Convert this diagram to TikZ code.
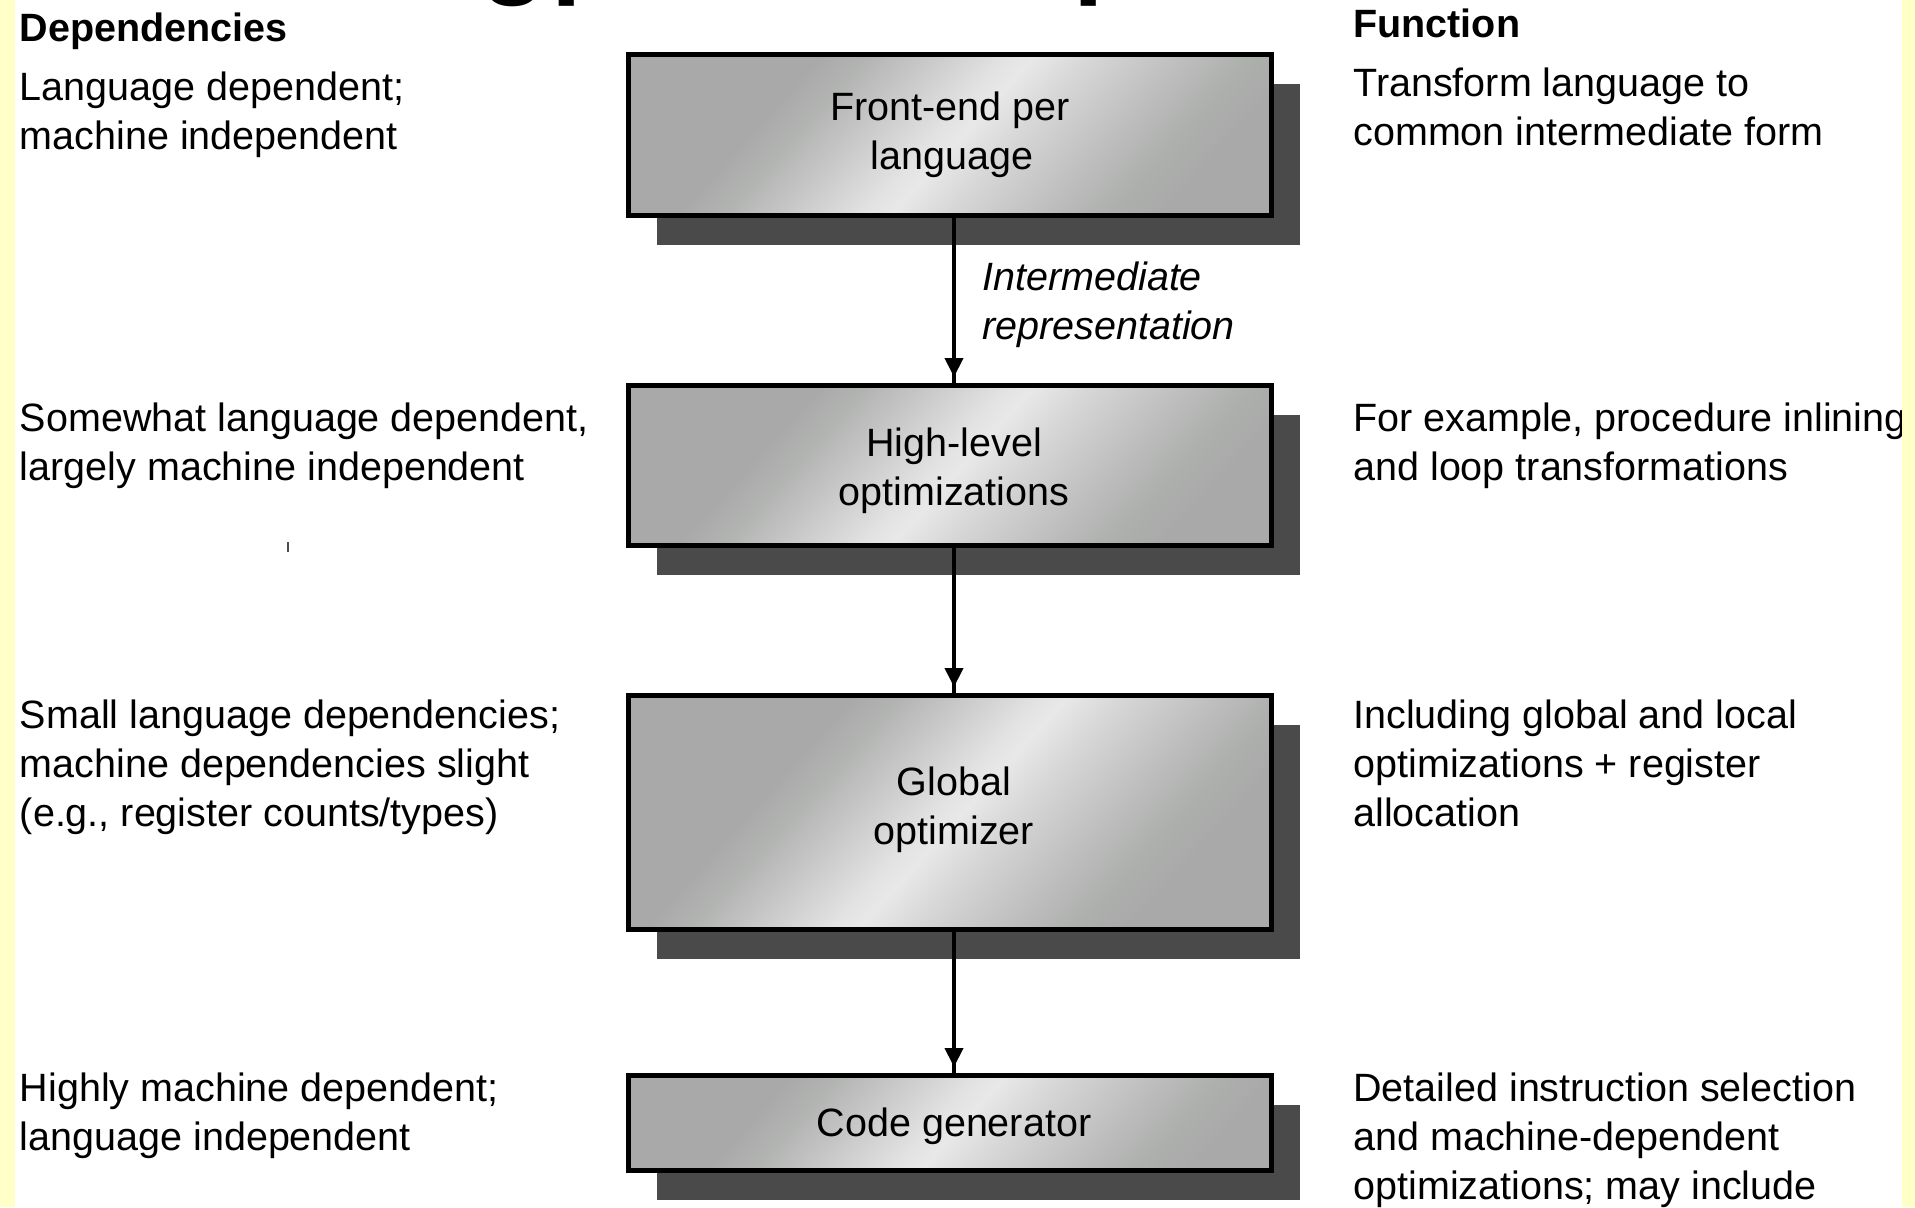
\documentclass[tikz,border=0pt]{standalone}
\usepackage{fontspec}
\setmainfont{Liberation Sans}
\usetikzlibrary{arrows.meta,shadows}
\definecolor{sA}{HTML}{A9A9A9}
\definecolor{sB}{HTML}{B2B4B2}
\definecolor{sC}{HTML}{C3C3C3}
\definecolor{sD}{HTML}{D3D3D3}
\definecolor{sE}{HTML}{E3E3E3}
\definecolor{sF}{HTML}{E8E8E8}
\definecolor{sG}{HTML}{D7D7D7}
\definecolor{sH}{HTML}{C9C9C9}
\definecolor{sI}{HTML}{BBBBBB}
\definecolor{sJ}{HTML}{ADB0AD}
\definecolor{shadowc}{HTML}{4A4A4A}
\definecolor{yell}{HTML}{FFFFC8}
\pgfdeclarehorizontalshading{boxshade}{100bp}{color(0bp)=(sA); color(28bp)=(sA); color(39.3bp)=(sA); color(41.8bp)=(sB); color(44.3bp)=(sC); color(46.8bp)=(sD); color(49.3bp)=(sE); color(50.7bp)=(sF); color(53.6bp)=(sG); color(56.4bp)=(sH); color(59.3bp)=(sI); color(62.1bp)=(sJ); color(65bp)=(sA); color(100bp)=(sA)}
\tikzset{
  txt/.style={font=\fontsize{19.75pt}{24.5pt}\selectfont, align=left, inner sep=0pt, anchor=base west, text=black},
  hdr/.style={txt, font=\fontsize{19.75pt}{24.5pt}\selectfont\bfseries},
  lbl/.style={txt, font=\fontsize{19.75pt}{24.5pt}\selectfont\itshape},
  procbox/.style={draw=black, line width=2.5pt, minimum width=321.5pt, inner sep=0pt, align=center,
    font=\fontsize{19.75pt}{24.5pt}\selectfont, text=black,
    drop shadow={shadow xshift=14pt, shadow yshift=-14.5pt, fill=shadowc, opacity=1},
    path picture={\shade[shading=boxshade, shading angle=-42]
      ([shift={(-350,-350)}]path picture bounding box.center) rectangle ++(700,700);}},
  conn/.style={line width=2pt, draw=black,
    postaction={draw=black, line width=2pt, -{Triangle[length=9.5pt,width=9pt]}, shorten >=3pt}},
  titlefrag/.style={font=\fontsize{55pt}{60pt}\selectfont\bfseries, inner sep=0pt, anchor=base west, text=black}
}
\newcommand{\rs}{\hspace*{4pt}}
\begin{document}
\begin{tikzpicture}[x=0.5pt,y=-0.5pt]
\useasboundingbox (0,0) rectangle (1915,1207);
\fill[white] (0,0) rectangle (1915,1207);

% cut-off title fragments (only the descenders show)
\begin{scope}
\clip (0,0) rectangle (1915,7);
\node[titlefrag] (tg1) at (480,-17) {g};
\node[titlefrag] (tg2) at (551,-17) {p};
\node[titlefrag] (tg3) at (1073,-17) {p};
\end{scope}

% column headers
\node[hdr] (hdep) at (19.5,41) {Dependencies};
\node[hdr] (hfun) at (1353,37) {Function};

% left column (anchor = baseline of last line)
\node[txt] (d1) at (19.5,149) {Language dependent;\\machine independent};
\node[txt] (d2) at (19.5,480) {Somewhat language dependent,\\largely machine independent};
\node[txt] (d3) at (19.5,826) {Small language dependencies;\\machine dependencies slight\\(e.g., register counts/types)};
\node[txt] (d4) at (19.5,1150) {Highly machine dependent;\\language independent};

% right column
\node[txt] (f1) at (1353,145) {Transform language to\\common intermediate form};
\node[txt] (f2) at (1353,480) {For example, procedure inlining\\and loop transformations};
\node[txt] (f3) at (1353,826) {Including global and local\\optimizations + register\\allocation};
\node[txt] (f4) at (1353,1199) {Detailed instruction selection\\and machine-dependent\\optimizations; may include};

% boxes
\node[procbox, minimum height=80.5pt] (b1) at (950,135) {Front-end per\\\hspace*{2pt}language};
\node[procbox, minimum height=80pt] (b2) at (950,465.5) {\rule{0pt}{19.4pt}\rs High-level\\\rs optimizations};
\node[procbox, minimum height=117pt] (b3) at (950,812.5) {\rs Global\\\rs optimizer\rule[-6.4pt]{0pt}{0pt}};
\node[procbox, minimum height=47.5pt] (b4) at (950,1123) {\rule{0pt}{17.4pt}\rs Code generator};

% connectors
\draw[conn] ([xshift=2pt]b1.south) -- ([xshift=2pt]b2.north);
\draw[conn] ([xshift=2pt]b2.south) -- ([xshift=2pt]b3.north);
\draw[conn] ([xshift=2pt]b3.south) -- ([xshift=2pt]b4.north);

\node[lbl] (ir) at (982,339) {Intermediate\\representation};

% stray tick mark
\draw[line width=1pt, black!70] (288,542) -- (288,552);

% yellow side strips
\fill[yell] (0,0) rectangle (15,1207);
\fill[yell] (1902,0) rectangle (1915,1207);
\end{tikzpicture}
\end{document}
